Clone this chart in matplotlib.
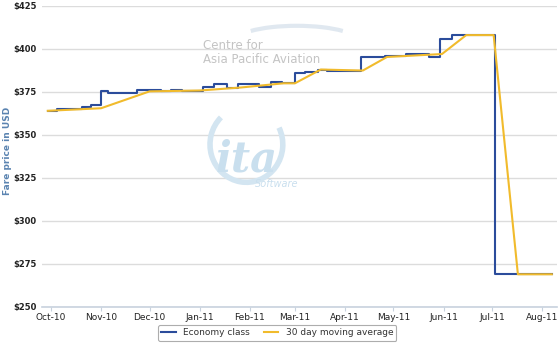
import matplotlib
matplotlib.use("Agg")
import matplotlib.pyplot as plt
import matplotlib.dates as mdates
from matplotlib.patches import Arc
from datetime import datetime

### Economy class fare (step changes)
eco_dates = ['2010-09-29', '2010-10-05', '2010-10-20', '2010-10-26', '2010-11-01',
             '2010-11-05', '2010-11-23', '2010-12-08', '2010-12-14', '2010-12-21',
             '2011-01-03', '2011-01-10', '2011-01-18', '2011-01-25', '2011-02-07',
             '2011-02-14', '2011-02-21', '2011-03-01', '2011-03-07', '2011-03-15',
             '2011-03-21', '2011-04-11', '2011-04-26', '2011-05-09', '2011-05-23',
             '2011-05-30', '2011-06-06', '2011-07-03', '2011-08-07']
eco_fare = [364, 365.3, 366, 367.2, 375.8,
            374.5, 376.3, 375.3, 376.3, 375.3,
            378, 379.5, 377.5, 379.5, 378,
            381, 380, 386, 386.8, 388,
            387, 395.3, 396, 397.3, 395.5,
            405.8, 408, 269, 269]

### 30 day moving average
avg_dates = ['2010-09-29', '2010-11-01', '2010-12-01', '2011-01-01', '2011-01-26',
             '2011-02-22', '2011-03-01', '2011-03-17', '2011-04-12', '2011-04-27',
             '2011-05-31', '2011-06-15', '2011-07-02', '2011-07-17', '2011-08-07']
avg_fare = [364, 365.5, 375.3, 375.8, 377.5,
            380, 380, 388, 387.4, 395.3,
            397, 408, 408, 269, 269]

month_ticks = ['2010-10-01', '2010-11-01', '2010-12-01', '2011-01-01', '2011-02-01',
               '2011-03-01', '2011-04-01', '2011-05-01', '2011-06-01', '2011-07-01',
               '2011-08-01']
y_ticks = [250, 275, 300, 325, 350, 375, 400, 425]

def todate(s):
    return datetime.strptime(s, '%Y-%m-%d')

eco_x = [todate(d) for d in eco_dates]
avg_x = [todate(d) for d in avg_dates]
tick_x = [todate(d) for d in month_ticks]

fig = plt.figure(figsize=(5.6, 3.44), dpi=100)
ax = fig.add_axes([0.075, 0.1076, 0.92, 0.8754])

# watermark
fig.text(0.362, 0.857, 'Centre for', fontsize=8.5, color='#c4c4c4')
fig.text(0.362, 0.818, 'Asia Pacific Aviation', fontsize=8.5, color='#c4c4c4')
fig.text(0.385, 0.5, 'ita', fontsize=30, color='#c9dfee', style='italic',
         family='DejaVu Serif', weight='bold')
fig.text(0.455, 0.455, 'Software', fontsize=7, color='#c9dfee', style='italic')
fig.patches.append(Arc((0.44, 0.58), 0.13, 0.22, angle=0, theta1=120, theta2=400,
                       transform=fig.transFigure, color='#d3e5f1', lw=4))
fig.patches.append(Arc((0.53, 0.88), 0.22, 0.09, theta1=20, theta2=160,
                       transform=fig.transFigure, color='#e0e8f0', lw=3))

ax.plot(eco_x, eco_fare, drawstyle='steps-post', color='#2b4c9b', lw=1.5,
        label='Economy class', zorder=3)
ax.plot(avg_x, avg_fare, color='#f1bb2c', lw=1.5,
        label='30 day moving average', zorder=3)

ax.set_xlim(datetime(2010, 9, 25, 10), datetime(2011, 8, 10, 8))
ax.set_ylim(250, 425)
ax.set_yticks(y_ticks)
ax.set_yticklabels(['$%d' % v for v in y_ticks])
ax.set_xticks(tick_x)
ax.xaxis.set_major_formatter(mdates.DateFormatter('%b-%y'))

ax.grid(axis='y', color='#dcdcdc', lw=1)
ax.set_axisbelow(True)
for s in ['top', 'right', 'left']:
    ax.spines[s].set_visible(False)
ax.spines['bottom'].set_color('#c8d2de')
ax.spines['bottom'].set_linewidth(1.2)
ax.tick_params(axis='y', length=0, pad=4, labelsize=6, labelcolor='#222222')
for t in ax.get_yticklabels():
    t.set_fontweight('bold')
ax.tick_params(axis='x', length=3, color='#c8d2de', pad=1, labelsize=6.5,
               labelcolor='#222222')

fig.text(0.014, 0.56, 'Fare price in USD', rotation=90, fontsize=6.5,
         weight='bold', color='#5b84b1', va='center', ha='center')

leg = fig.legend(loc='center', bbox_to_anchor=(0.495, 0.032), ncol=2,
                 fontsize=6.5, frameon=True, handlelength=1.6, columnspacing=1.6,
                 borderpad=0.35, fancybox=True)
leg.get_frame().set_edgecolor('#999999')
leg.get_frame().set_linewidth(0.8)
for t in leg.get_texts():
    t.set_color('#333333')

fig.savefig('out.png', dpi=100)
